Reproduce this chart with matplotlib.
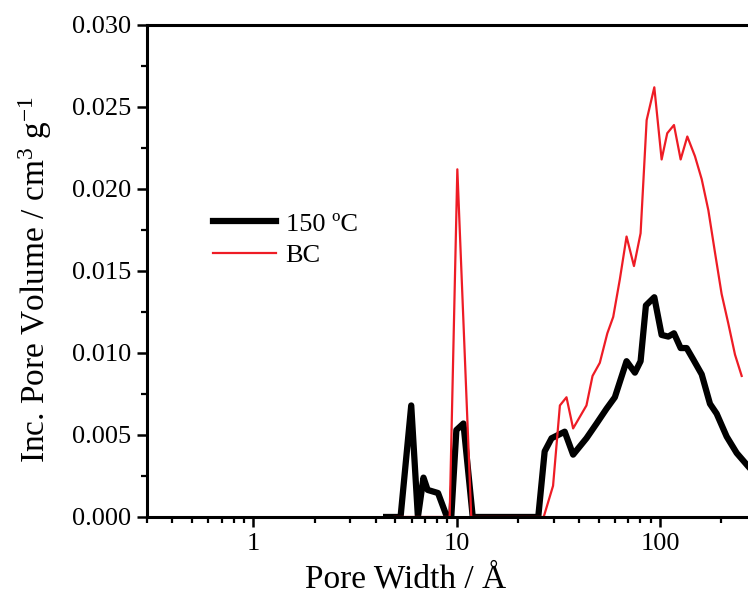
import matplotlib
matplotlib.use("Agg")
import matplotlib.pyplot as plt
from matplotlib.ticker import MultipleLocator, FormatStrFormatter, LogLocator, NullFormatter

plt.rcParams['font.family'] = ['Liberation Serif', 'DejaVu Serif']
plt.rcParams['mathtext.fontset'] = 'custom'
plt.rcParams['mathtext.rm'] = 'Liberation Serif'
plt.rcParams['mathtext.it'] = 'Liberation Serif:italic'

# pore width (A) and incremental pore volume (cm3/g)
w_150 = [4.5, 5.3, 5.98, 6.45, 6.87, 7.2, 8.1, 8.96, 9.41, 9.97, 10.8, 12.0,
         25.2, 27.1, 29.3, 34.0, 37.4, 43.5, 48.8, 54.6, 60.0, 68.5, 75.3,
         80.3, 85.3, 93.8, 101.9, 109.9, 117.2, 126.4, 135.3, 145.9, 160.4,
         176.2, 190.0, 212.9, 238.4, 271.0, 295.0]
v_150 = [0.0, 0.0, 0.0068, 0.0, 0.0024, 0.00165, 0.00146, 0.0, 0.0, 0.0053,
         0.0057, 0.0, 0.0, 0.0040, 0.0048, 0.0052, 0.0038, 0.0048, 0.0057,
         0.0066, 0.0073, 0.0095, 0.0088, 0.0095, 0.0129, 0.0134, 0.0111,
         0.0110, 0.0112, 0.0103, 0.0103, 0.0096, 0.0087, 0.0069, 0.0063,
         0.0049, 0.0039, 0.0031, 0.0026]

w_bc = [4.95, 9.24, 10.08, 11.8, 26.8, 29.8, 32.2, 34.7, 37.4, 43.5, 46.6,
        50.6, 55.1, 58.9, 63.5, 68.5, 74.5, 80.3, 86.0, 93.8, 101.9, 108.6,
        117.2, 126.4, 136.3, 148.6, 160.4, 173.0, 186.6, 201.0, 216.8, 233.9,
        252.3]
v_bc = [0.0, 0.0, 0.0212, 0.0, 0.0, 0.0019, 0.0068, 0.0073, 0.0054, 0.0068,
        0.0086, 0.0094, 0.0112, 0.0122, 0.0145, 0.0171, 0.0153, 0.0173,
        0.0242, 0.0262, 0.0218, 0.0234, 0.0239, 0.0218, 0.0232, 0.0220,
        0.0206, 0.0187, 0.0161, 0.0136, 0.0118, 0.0099, 0.0086]

fig = plt.figure(figsize=(7.48, 5.98), dpi=100)
# axes run slightly past the right edge, as in the cropped original
ax = fig.add_axes([0.1965, 0.1355, 0.8155, 0.8227])

ax.plot(w_150, v_150, color='black', lw=4.5, solid_joinstyle='round',
        label='150 ºC')
ax.plot(w_bc, v_bc, color='#ee1c25', lw=1.6, label='BC')

ax.set_xscale('log')
ax.set_xlim(0.3, 300)
ax.set_ylim(0, 0.030)

ax.yaxis.set_major_locator(MultipleLocator(0.005))
ax.yaxis.set_minor_locator(MultipleLocator(0.0025))
ax.yaxis.set_major_formatter(FormatStrFormatter('%.3f'))
ax.xaxis.set_minor_locator(LogLocator(base=10, subs=range(2, 10), numticks=10))
ax.xaxis.set_minor_formatter(NullFormatter())
ax.set_xticks([1, 10, 100])
ax.set_xticklabels(['1', '10', '100'])

for s in ax.spines.values():
    s.set_linewidth(2.2)
ax.tick_params(which='major', direction='out', length=7.5, width=1.8,
               labelsize=19, pad=4)
ax.tick_params(which='minor', direction='out', length=4.5, width=1.6)
ax.tick_params(axis='x', which='both', top=False)
ax.tick_params(axis='y', which='both', right=False)

ax.set_xlabel('Pore Width / Å', fontsize=24)
ax.set_ylabel('Inc. Pore Volume / cm$^{3}$ g$^{-1}$', fontsize=24)
ax.xaxis.set_label_coords(0.4246, -0.095)
ax.yaxis.set_label_coords(-0.152, 0.482)

ax.legend(loc='center left', bbox_to_anchor=(0.2848, 0.5995),
          bbox_transform=fig.transFigure, frameon=False, fontsize=19,
          handlelength=2.4, handletextpad=0.35, labelspacing=0.3,
          borderpad=0, borderaxespad=0)

fig.savefig('out.png', dpi=100)
